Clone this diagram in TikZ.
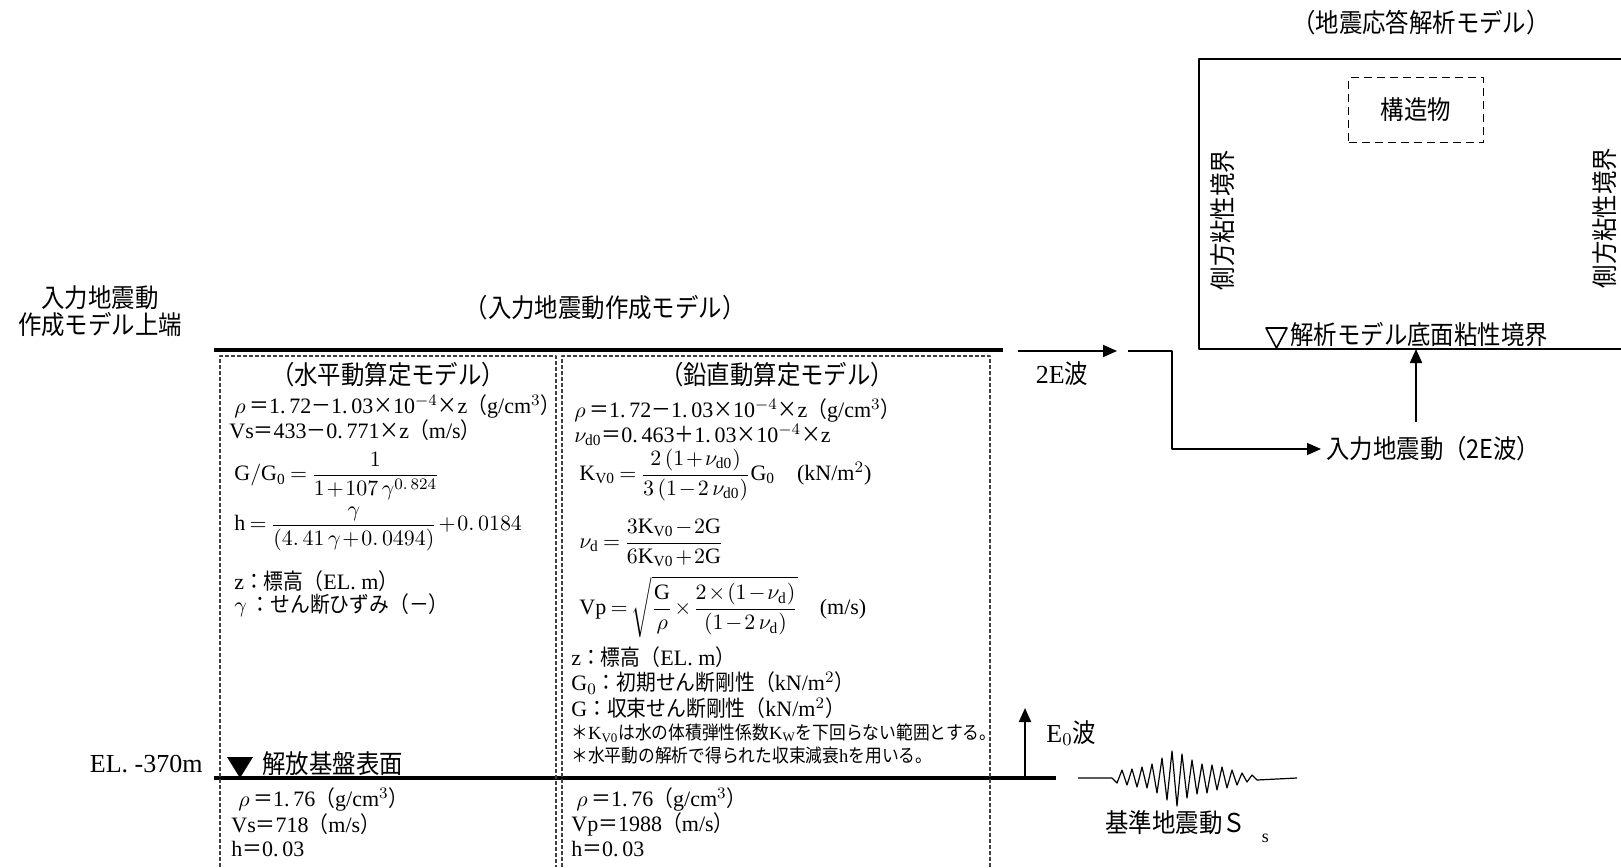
\documentclass[tikz,border=0pt]{standalone}
\usepackage{fontspec}
\setmainfont{Liberation Serif}
\newfontfamily\jp[FakeStretch=0.9]{Noto Sans CJK JP}
\newcommand{\J}[1]{{\jp #1}}
\newcommand{\tightmath}{\thickmuskip=3.5mu plus 1mu\medmuskip=1.5mu plus 1mu}
\usetikzlibrary{arrows.meta}

\begin{document}
\begin{tikzpicture}[x=0.5pt,y=-0.5pt,join=round,
    big/.style={inner sep=0pt,font=\fontsize{13}{13.5}\selectfont},
    txt/.style={inner sep=0pt,anchor=west,font=\fontsize{11}{13}\selectfont\tightmath},
    note/.style={inner sep=0pt,anchor=west,font=\fontsize{9.3}{11}\selectfont},
    sub/.style={dash pattern=on 2pt off 1pt,line width=0.6pt,black!75},
    ground/.style={line width=1.6pt},
    wave/.style={line width=1pt,-{Triangle[length=7pt,width=6pt]}}]
    \useasboundingbox (0,0) rectangle (1621,867);
    % input motion model
    \node[big,align=center] (upper) at (100,311) {\J{入力地震動}\\\J{作成モデル上端}};
    \node[big] (mtitle) at (605,308) {\J{（入力地震動作成モデル）}};
    \draw[ground] (214,350) -- (1003,350);
    \draw[ground] (214,778) -- (1056,778);
    \draw[sub] (220,867) -- (220,356) -- (556,356) -- (556,867);
    \draw[sub] (562,867) -- (562,356) -- (990,356) -- (990,867);
    \node[big,anchor=east] (el) at (203,764) {EL.\ -370m};
    \fill (227,757) -- (253,757) -- (240,778) -- cycle;
    \node[big,anchor=west] (base) at (262,764) {\J{解放基盤表面}};
    % horizontal
    \node[big] (hhead) at (388,375) {\J{（水平動算定モデル）}};
    \node[txt] (h1) at (234,406) {$\rho$\,\J{＝}1.\,72\J{－}1.\,03\J{×}10$^{-4}$\J{×}z\J{（}g/cm$^3$\J{）}};
    \node[txt] (h2) at (229,430) {Vs\J{＝}433\J{－}0.\,771\J{×}z\J{（}m/s\J{）}};
    \node[txt] (h3) at (234,476) {$\mathrm{G/G_0}=\displaystyle\frac{1}{1+107\,\gamma^{0.\,824}}$};
    \node[txt] (h4) at (234,529) {$\mathrm{h}=\displaystyle\frac{\gamma}{(4.\,41\,\gamma+0.\,0494)}+0.\,0184$};
    \node[txt] (h5) at (234,581) {z\J{：標高（}EL.\ m\J{）}};
    \node[txt] (h6) at (234,605) {$\gamma$\,\J{：せん断ひずみ（－）}};
    \node[txt] (b1) at (238,799) {$\rho$\,\J{＝}1.\,76\J{（}g/cm$^3$\J{）}};
    \node[txt] (b2) at (231,824) {Vs\J{＝}718\J{（}m/s\J{）}};
    \node[txt] (b3) at (231,849) {h\J{＝}0.\,03};
    % vertical
    \node[big] (vhead) at (777,375) {\J{（鉛直動算定モデル）}};
    \node[txt] (v1) at (574,410) {$\rho$\,\J{＝}1.\,72\J{－}1.\,03\J{×}10$^{-4}$\J{×}z\J{（}g/cm$^3$\J{）}};
    \node[txt] (v2) at (574,435) {$\nu_{\mathrm{d0}}$\J{＝}0.\,463\J{＋}1.\,03\J{×}10$^{-4}$\J{×}z};
    \node[txt] (v3) at (579,475) {$\mathrm{K_{V0}}=\displaystyle\frac{2\,(1+\nu_{\mathrm{d0}})}{3\,(1-2\,\nu_{\mathrm{d0}})}\mathrm{G_0}$\quad (kN/m$^2$)};
    \node[txt] (v4) at (579,543) {$\nu_{\mathrm{d}}=\displaystyle\frac{3\mathrm{K_{V0}}-2\mathrm{G}}{6\mathrm{K_{V0}}+2\mathrm{G}}$};
    \node[txt] (v5) at (579,607) {$\mathrm{Vp}=\displaystyle\sqrt{\frac{\mathrm{G}}{\rho}\times\frac{2\times(1-\nu_{\mathrm{d}})}{(1-2\,\nu_{\mathrm{d}})}}$\quad (m/s)};
    \node[txt] (v6) at (571,657) {z\J{：標高（}EL.\ m\J{）}};
    \node[txt] (v7) at (571,683) {G$_0$\J{：初期せん断剛性（}kN/m$^2$\J{）}};
    \node[txt] (v8) at (571,708) {G\J{：収束せん断剛性（}kN/m$^2$\J{）}};
    \node[note] (v9) at (571,733) {\J{＊}K$_{\mathrm{V0}}$\J{は水の体積弾性係数}K$_{\mathrm{W}}$\J{を下回らない範囲とする。}};
    \node[note] (v10) at (571,755) {\J{＊水平動の解析で得られた収束減衰}h\J{を用いる。}};
    \node[txt] (c1) at (576,799) {$\rho$\,\J{＝}1.\,76\J{（}g/cm$^3$\J{）}};
    \node[txt] (c2) at (571,824) {Vp\J{＝}1988\J{（}m/s\J{）}};
    \node[txt] (c3) at (571,849) {h\J{＝}0.\,03};
    % response model
    \node[big] (atitle) at (1421,23) {\J{（地震応答解析モデル）}};
    \draw[line width=1pt] (1621,59) -- (1199,59) -- (1199,349) -- (1621,349);
    \coordinate (bot) at (1416,349);
    \node[big,draw,dash pattern=on 4pt off 2.5pt,line width=0.9pt,minimum width=67.5pt,minimum height=32.5pt] (struct) at (1416,110) {\J{構造物}};
    \node[big,rotate=90] (lside) at (1223,220) {\J{側方粘性境界}};
    \node[big,rotate=90] (rside) at (1605,218) {\J{側方粘性境界}};
    \draw[line width=0.8pt] (1266,328) -- (1287,328) -- (1276.5,348) -- cycle;
    \node[big,anchor=west] (bline) at (1290,335) {\J{解析モデル底面粘性境界}};
    % waves
    \coordinate (w0) at (1018,351);
    \coordinate (w1) at (1117,351);
    \draw[wave] (w0) -- (w1);
    \node[big] (twoE) at (1062,374) {2E\J{波}};
    \coordinate (r0) at (1128,351);
    \node[big,anchor=west] (inwave) at (1326,449) {\J{入力地震動（2E波）}};
    \draw[wave,line width=0.8pt] (r0) -- (1172,351) |- ([xshift=-2.5pt]inwave.west);
    \draw[wave] (inwave.north -| bot) ++(0,-14) -- (bot);
    \coordinate (e0) at (1025,778);
    \draw[wave] (e0) -- ++(0,-70);
    \node[big,anchor=west] (e0lbl) at (1046,733) {E$_0$\J{波}};
    \draw[line width=0.6pt] (1078,778) -- (1112,778)
      \foreach \a [count=\i] in {5,8,7,9,9,11,10,14,15,20,22,27,28,24,20,18,16,14,15,13,12,11,10,8,7,5,4,3,2}
      { -- ({1112+\i*5},{778+\a*(2*mod(\i,2)-1)}) } -- (1297,778);
    \node[big,anchor=west] (ss) at (1105,827) {\J{基準地震動Ｓ}\hspace{8pt}\raisebox{-5pt}{\small s}};
\end{tikzpicture}
\end{document}
